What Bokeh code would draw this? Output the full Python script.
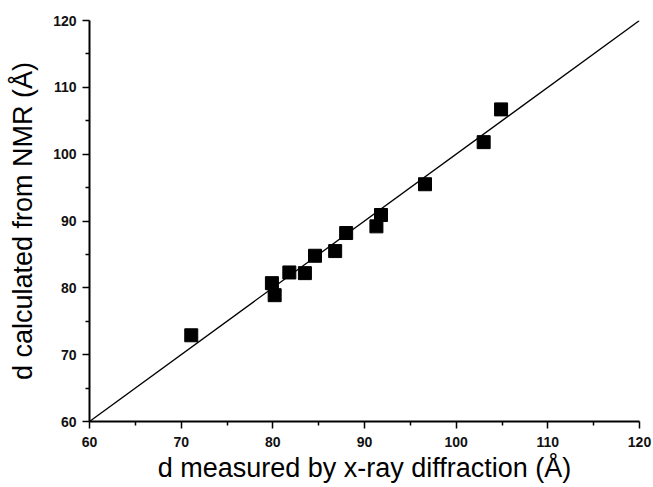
from bokeh.plotting import figure
from bokeh.models import Range1d, FixedTicker
from bokeh.embed import file_html
from bokeh.resources import INLINE

# measured by x-ray diffraction (Å)
d_xray = [71.1, 79.9, 80.2, 81.8, 83.5, 84.6, 86.8, 88.0, 91.3, 91.8, 96.6, 103.0, 104.9]
# calculated from NMR (Å)
d_nmr = [72.9, 80.7, 78.9, 82.3, 82.2, 84.8, 85.5, 88.2, 89.2, 90.9, 95.5, 101.8, 106.7]
# fitted line
fit_x = [60, 120]
fit_y = [60, 120]

major_ticks = [60, 70, 80, 90, 100, 110, 120]
minor_ticks = [65, 75, 85, 95, 105, 115]

p = figure(width=653, height=487, output_backend="svg", toolbar_location=None,
           x_range=Range1d(60, 120), y_range=Range1d(60, 120),
           min_border_left=89, min_border_right=14, min_border_top=20, min_border_bottom=66)
p.outline_line_color = None
p.grid.visible = False
p.background_fill_color = "white"
p.border_fill_color = "white"

p.line(fit_x, fit_y, line_color="black", line_width=1.3)
p.scatter(d_xray, d_nmr, marker="square", size=13, fill_color="black", line_color="black")

for ax in (p.xaxis[0], p.yaxis[0]):
    ax.ticker = FixedTicker(ticks=major_ticks, minor_ticks=minor_ticks)
    ax.axis_line_width = 2
    ax.axis_line_color = "black"
    ax.major_tick_line_width = 1.5
    ax.minor_tick_line_width = 1.5
    ax.major_tick_out = 7
    ax.major_tick_in = 0
    ax.minor_tick_out = 4
    ax.minor_tick_in = 0
    ax.major_label_text_font = "Liberation Sans"
    ax.major_label_text_font_size = "14px"
    ax.major_label_text_font_style = "bold"
    ax.major_label_text_color = "#111111"
    ax.axis_label_text_font = "Liberation Sans"
    ax.axis_label_text_font_size = "27px"
    ax.axis_label_text_font_style = "normal"
    ax.axis_label_text_color = "black"

p.xaxis.axis_label = "d measured by x-ray diffraction (Å)"
p.yaxis.axis_label = "d calculated from NMR (Å)"
p.xaxis.axis_label_standoff = 3
p.yaxis.axis_label_standoff = 12
p.xaxis.major_label_standoff = 8
p.yaxis.major_label_standoff = 6

open("out.html", "w").write(file_html(p, INLINE))
